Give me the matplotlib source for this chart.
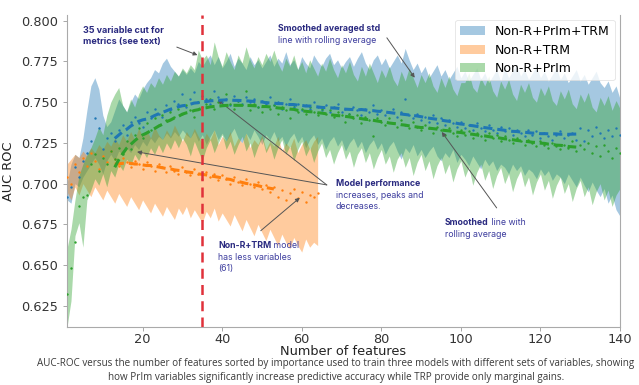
import numpy as np
import pandas as pd
import matplotlib
matplotlib.use('Agg')
import matplotlib.pyplot as plt

# AUC per number of features, one value per model size
auc_all = [0.692, 0.698, 0.710, 0.704, 0.714, 0.719, 0.726, 0.740, 0.734, 0.721,
           0.728, 0.731, 0.726, 0.733, 0.736, 0.730, 0.738, 0.741, 0.737, 0.735,
           0.744, 0.740, 0.746, 0.743, 0.741, 0.748, 0.745, 0.751, 0.749, 0.755,
           0.747, 0.752, 0.756, 0.750, 0.754, 0.752, 0.749, 0.757, 0.753, 0.750,
           0.752, 0.748, 0.754, 0.751, 0.749, 0.753, 0.750, 0.752, 0.747, 0.751,
           0.749, 0.753, 0.748, 0.750, 0.746, 0.749, 0.752, 0.747, 0.749, 0.745,
           0.748, 0.746, 0.750, 0.747, 0.745, 0.748, 0.744, 0.747, 0.749, 0.744,
           0.746, 0.743, 0.747, 0.745, 0.742, 0.746, 0.744, 0.748, 0.743, 0.745,
           0.742, 0.744, 0.746, 0.741, 0.744, 0.752, 0.742, 0.740, 0.743, 0.739,
           0.741, 0.738, 0.742, 0.737, 0.740, 0.736, 0.739, 0.737, 0.735, 0.738,
           0.734, 0.736, 0.733, 0.737, 0.734, 0.732, 0.736, 0.733, 0.731, 0.735,
           0.732, 0.734, 0.730, 0.733, 0.731, 0.729, 0.733, 0.730, 0.732, 0.728,
           0.731, 0.729, 0.727, 0.730, 0.732, 0.728, 0.730, 0.731, 0.727, 0.734,
           0.726, 0.733, 0.729, 0.735, 0.731, 0.728, 0.733, 0.729, 0.734, 0.730]
auc_trm = [0.704, 0.700, 0.712, 0.707, 0.716, 0.711, 0.719, 0.714, 0.709, 0.717,
           0.713, 0.720, 0.715, 0.711, 0.716, 0.713, 0.710, 0.714, 0.712, 0.709,
           0.713, 0.711, 0.708, 0.712, 0.710, 0.707, 0.711, 0.708, 0.706, 0.710,
           0.707, 0.705, 0.709, 0.706, 0.703, 0.707, 0.704, 0.706, 0.702, 0.705,
           0.703, 0.700, 0.704, 0.701, 0.699, 0.703, 0.700, 0.698, 0.701, 0.697,
           0.699, 0.695, 0.698, 0.692, 0.696, 0.690, 0.694, 0.697, 0.691, 0.695,
           0.689, 0.693, 0.692, 0.694]
auc_prim = [0.632, 0.648, 0.664, 0.686, 0.692, 0.693, 0.712, 0.718, 0.708, 0.716,
            0.712, 0.720, 0.715, 0.722, 0.718, 0.726, 0.721, 0.730, 0.734, 0.728,
            0.737, 0.733, 0.740, 0.736, 0.742, 0.739, 0.744, 0.741, 0.746, 0.743,
            0.748, 0.745, 0.741, 0.750, 0.747, 0.749, 0.752, 0.746, 0.750, 0.748,
            0.755, 0.749, 0.746, 0.751, 0.748, 0.757, 0.745, 0.749, 0.747, 0.744,
            0.750, 0.746, 0.748, 0.743, 0.747, 0.745, 0.740, 0.748, 0.744, 0.746,
            0.743, 0.747, 0.744, 0.742, 0.746, 0.743, 0.745, 0.741, 0.744, 0.742,
            0.738, 0.743, 0.740, 0.742, 0.737, 0.741, 0.739, 0.729, 0.740, 0.738,
            0.736, 0.740, 0.737, 0.735, 0.739, 0.736, 0.734, 0.738, 0.735, 0.733,
            0.736, 0.734, 0.731, 0.735, 0.733, 0.730, 0.734, 0.731, 0.729, 0.733,
            0.730, 0.732, 0.728, 0.731, 0.729, 0.727, 0.731, 0.728, 0.730, 0.726,
            0.729, 0.727, 0.725, 0.728, 0.726, 0.724, 0.727, 0.725, 0.723, 0.726,
            0.724, 0.722, 0.725, 0.723, 0.721, 0.724, 0.722, 0.726, 0.720, 0.724,
            0.721, 0.725, 0.719, 0.723, 0.717, 0.724, 0.720, 0.716, 0.722, 0.719]

# smoothed std envelopes (upper / lower)
all_hi = [0.700, 0.712, 0.718, 0.716, 0.728, 0.745, 0.760, 0.765, 0.758, 0.742,
          0.735, 0.738, 0.745, 0.752, 0.748, 0.744, 0.750, 0.755, 0.752, 0.758,
          0.762, 0.765, 0.770, 0.768, 0.774, 0.777, 0.772, 0.769, 0.766, 0.770,
          0.767, 0.771, 0.768, 0.775, 0.772, 0.776, 0.779, 0.773, 0.778, 0.771,
          0.775, 0.780, 0.772, 0.777, 0.774, 0.770, 0.778, 0.773, 0.776, 0.771,
          0.775, 0.779, 0.772, 0.777, 0.774, 0.781, 0.773, 0.776, 0.770, 0.778,
          0.774, 0.771, 0.779, 0.775, 0.772, 0.777, 0.780, 0.773, 0.776, 0.771,
          0.775, 0.778, 0.772, 0.777, 0.781, 0.774, 0.770, 0.776, 0.779, 0.773,
          0.777, 0.771, 0.775, 0.779, 0.774, 0.783, 0.776, 0.770, 0.774, 0.768,
          0.772, 0.765, 0.769, 0.773, 0.766, 0.770, 0.764, 0.768, 0.772, 0.765,
          0.769, 0.763, 0.767, 0.771, 0.764, 0.768, 0.762, 0.766, 0.770, 0.763,
          0.771, 0.765, 0.769, 0.773, 0.766, 0.770, 0.764, 0.768, 0.772, 0.765,
          0.769, 0.763, 0.767, 0.771, 0.764, 0.768, 0.762, 0.766, 0.770, 0.763,
          0.767, 0.761, 0.765, 0.769, 0.762, 0.759, 0.763, 0.756, 0.760, 0.752]
all_lo = [0.690, 0.688, 0.700, 0.698, 0.704, 0.708, 0.712, 0.716, 0.712, 0.706,
          0.714, 0.718, 0.714, 0.720, 0.718, 0.722, 0.719, 0.724, 0.721, 0.726,
          0.723, 0.728, 0.725, 0.729, 0.727, 0.731, 0.728, 0.732, 0.729, 0.733,
          0.730, 0.728, 0.732, 0.726, 0.730, 0.724, 0.729, 0.733, 0.727, 0.731,
          0.726, 0.730, 0.734, 0.728, 0.725, 0.731, 0.727, 0.733, 0.729, 0.724,
          0.730, 0.727, 0.732, 0.726, 0.729, 0.723, 0.728, 0.731, 0.725, 0.729,
          0.722, 0.727, 0.730, 0.724, 0.728, 0.721, 0.726, 0.729, 0.723, 0.727,
          0.720, 0.725, 0.728, 0.722, 0.726, 0.719, 0.724, 0.727, 0.721, 0.725,
          0.718, 0.723, 0.726, 0.720, 0.715, 0.722, 0.719, 0.724, 0.717, 0.721,
          0.716, 0.720, 0.723, 0.717, 0.714, 0.719, 0.716, 0.721, 0.713, 0.718,
          0.715, 0.711, 0.717, 0.713, 0.709, 0.715, 0.711, 0.714, 0.708, 0.712,
          0.710, 0.706, 0.712, 0.708, 0.711, 0.705, 0.709, 0.707, 0.703, 0.709,
          0.705, 0.708, 0.702, 0.706, 0.704, 0.700, 0.706, 0.702, 0.698, 0.704,
          0.699, 0.695, 0.701, 0.696, 0.692, 0.697, 0.688, 0.693, 0.684, 0.680]
trm_hi = [0.712, 0.715, 0.718, 0.716, 0.720, 0.717, 0.722, 0.719, 0.724, 0.721,
          0.726, 0.723, 0.728, 0.724, 0.730, 0.726, 0.732, 0.727, 0.734, 0.729,
          0.733, 0.728, 0.735, 0.730, 0.727, 0.733, 0.729, 0.736, 0.731, 0.726,
          0.732, 0.728, 0.734, 0.729, 0.725, 0.731, 0.727, 0.733, 0.724, 0.729,
          0.726, 0.732, 0.723, 0.728, 0.725, 0.731, 0.722, 0.727, 0.724, 0.730,
          0.721, 0.726, 0.723, 0.729, 0.720, 0.725, 0.722, 0.728, 0.719, 0.724,
          0.727, 0.721, 0.726, 0.729]
trm_lo = [0.695, 0.690, 0.698, 0.693, 0.700, 0.696, 0.692, 0.698, 0.694, 0.690,
          0.696, 0.692, 0.688, 0.694, 0.690, 0.686, 0.692, 0.688, 0.684, 0.690,
          0.686, 0.682, 0.688, 0.684, 0.680, 0.686, 0.682, 0.678, 0.685, 0.681,
          0.686, 0.679, 0.684, 0.680, 0.676, 0.683, 0.679, 0.685, 0.677, 0.682,
          0.678, 0.674, 0.681, 0.676, 0.671, 0.678, 0.673, 0.668, 0.675, 0.670,
          0.665, 0.672, 0.667, 0.662, 0.669, 0.664, 0.660, 0.667, 0.662, 0.658,
          0.666, 0.661, 0.664, 0.662]
prim_hi = [0.660, 0.672, 0.690, 0.705, 0.712, 0.718, 0.722, 0.728, 0.735, 0.730,
           0.742, 0.750, 0.755, 0.759, 0.748, 0.744, 0.752, 0.747, 0.755, 0.760,
           0.756, 0.762, 0.759, 0.765, 0.761, 0.767, 0.763, 0.769, 0.766, 0.771,
           0.768, 0.773, 0.770, 0.782, 0.776, 0.779, 0.773, 0.787, 0.778, 0.772,
           0.781, 0.775, 0.770, 0.779, 0.774, 0.784, 0.776, 0.771, 0.778, 0.773,
           0.780, 0.775, 0.782, 0.774, 0.769, 0.777, 0.772, 0.779, 0.770, 0.775,
           0.768, 0.776, 0.771, 0.766, 0.774, 0.769, 0.777, 0.770, 0.765, 0.773,
           0.768, 0.775, 0.767, 0.763, 0.772, 0.766, 0.774, 0.768, 0.762, 0.770,
           0.765, 0.772, 0.764, 0.760, 0.769, 0.763, 0.771, 0.765, 0.759, 0.767,
           0.762, 0.768, 0.760, 0.756, 0.765, 0.759, 0.766, 0.758, 0.754, 0.762,
           0.762, 0.768, 0.759, 0.756, 0.765, 0.760, 0.766, 0.757, 0.753, 0.763,
           0.758, 0.764, 0.755, 0.751, 0.761, 0.756, 0.762, 0.753, 0.750, 0.759,
           0.754, 0.760, 0.751, 0.748, 0.757, 0.752, 0.758, 0.749, 0.746, 0.755,
           0.750, 0.756, 0.747, 0.744, 0.753, 0.748, 0.754, 0.745, 0.751, 0.746]
prim_lo = [0.612, 0.628, 0.668, 0.676, 0.661, 0.690, 0.696, 0.703, 0.699, 0.706,
           0.698, 0.708, 0.704, 0.712, 0.708, 0.715, 0.711, 0.718, 0.714, 0.720,
           0.716, 0.722, 0.718, 0.724, 0.719, 0.725, 0.721, 0.727, 0.722, 0.728,
           0.724, 0.717, 0.726, 0.720, 0.714, 0.722, 0.727, 0.719, 0.725, 0.730,
           0.721, 0.726, 0.718, 0.724, 0.729, 0.720, 0.725, 0.716, 0.723, 0.728,
           0.719, 0.724, 0.715, 0.722, 0.727, 0.718, 0.723, 0.714, 0.721, 0.726,
           0.717, 0.722, 0.713, 0.720, 0.725, 0.716, 0.721, 0.712, 0.719, 0.724,
           0.715, 0.720, 0.710, 0.718, 0.722, 0.713, 0.719, 0.709, 0.716, 0.721,
           0.712, 0.717, 0.707, 0.715, 0.719, 0.710, 0.716, 0.705, 0.713, 0.718,
           0.708, 0.714, 0.703, 0.711, 0.716, 0.706, 0.712, 0.701, 0.709, 0.714,
           0.704, 0.710, 0.699, 0.707, 0.712, 0.702, 0.708, 0.697, 0.705, 0.710,
           0.700, 0.706, 0.695, 0.703, 0.708, 0.698, 0.704, 0.693, 0.701, 0.706,
           0.696, 0.702, 0.691, 0.699, 0.704, 0.694, 0.700, 0.689, 0.697, 0.702,
           0.692, 0.698, 0.687, 0.695, 0.700, 0.690, 0.696, 0.686, 0.693, 0.697]

labels = ['Non-R+PrIm+TRM', 'Non-R+TRM', 'Non-R+PrIm']
colors = ['tab:blue', 'tab:orange', 'tab:green']
cut = 35
window = 24

ink = '#2a2a80'
ink_light = '#3d3d9e'
note_font = 'Inter'
caption = ('AUC-ROC versus the number of features sorted by importance used to train three models with different sets of variables, showing\n'
           'how PrIm variables significantly increase predictive accuracy while TRP provide only marginal gains.')


def note(ax, x, y, bold, rest, tail='', size=6.3):
    # bold first words, the rest in regular weight on the same line / below
    t = ax.text(x, y, bold, fontsize=size, family=note_font, fontweight='bold',
                color=ink, va='baseline', ha='left', linespacing=1.25)
    if tail:
        ax.annotate(tail, xy=(1, 0), xycoords=t, va='bottom', ha='left',
                    fontsize=size, family=note_font, color=ink_light)
    if rest:
        ax.annotate(rest, xy=(0, 0), xycoords=t, xytext=(0, -2.2), textcoords='offset points',
                    va='top', ha='left', fontsize=size, family=note_font, color=ink_light,
                    linespacing=1.25)
    return t


def arrow(ax, start, end):
    ax.annotate('', xy=end, xytext=start,
                arrowprops=dict(arrowstyle='-|>', color='#555555', lw=0.7, mutation_scale=6,
                                shrinkA=0, shrinkB=0))


fig = plt.figure(figsize=(6.39, 3.85), dpi=100)
ax = fig.add_axes([67 / 639, 1 - 327 / 385, 553 / 639, 312 / 385])

series = [(auc_all, all_lo, all_hi), (auc_trm, trm_lo, trm_hi), (auc_prim, prim_lo, prim_hi)]
for (vals, lo, hi), lab, col in zip(series, labels, colors):
    x = np.arange(1, len(vals) + 1)
    ax.fill_between(x, lo, hi, color=col, alpha=0.4, lw=0, label=lab)

for (vals, lo, hi), col in zip(series, colors):
    x = np.arange(1, len(vals) + 1)
    smooth = pd.Series(vals).rolling(window, center=True).mean()
    ax.scatter(x, vals, s=3, color=col, lw=0, zorder=3)
    ax.plot(x, smooth, color=col, lw=2.2, ls=(0, (3, 1.6)), zorder=4)

ax.axvline(cut, color='#e0313a', lw=1.8, ls=(0, (4, 2.5)), zorder=5)

ax.set_xlim(1, 140)
ax.set_ylim(0.612, 0.8035)
ax.set_xticks([20, 40, 60, 80, 100, 120, 140])
ax.set_yticks(np.arange(0.625, 0.801, 0.025))
ax.yaxis.set_major_formatter(matplotlib.ticker.FormatStrFormatter('%.3f'))
ax.tick_params(labelsize=9.3, labelcolor='#333333', color='#999999', length=3, width=0.6)
ax.tick_params(axis='x', pad=1.5)
ax.set_xlabel('Number of features', fontsize=9.3, color='#222222', labelpad=-1)
ax.set_ylabel('AUC ROC', fontsize=9.3, color='#222222', labelpad=4)
for side in ['left', 'bottom', 'right']:
    ax.spines[side].set_color('#aaaaaa')
    ax.spines[side].set_linewidth(0.8)
ax.spines['top'].set_visible(False)

leg = ax.legend(loc='upper right', fontsize=9, frameon=True, handlelength=2.0,
                borderaxespad=0.4, labelspacing=0.45)
leg.get_frame().set_edgecolor('#dddddd')
leg.get_frame().set_linewidth(0.6)

# annotations
note(ax, 4.9, 0.7860, '35 variable cut for\nmetrics (see text)', '', size=6.5)
arrow(ax, (28.6, 0.7838), (33.8, 0.7789))
note(ax, 54.0, 0.7935, 'Smoothed averaged std', 'line with rolling average')
arrow(ax, (81.4, 0.7895), (88.4, 0.7650))
note(ax, 68.5, 0.6985, 'Model performance', 'increases, peaks and\ndecreases.')
arrow(ax, (66.3, 0.6992), (38.9, 0.7513))
arrow(ax, (66.3, 0.6992), (18.6, 0.7195))
note(ax, 39.0, 0.6605, 'Non-R+TRM', 'has less variables\n(61)', tail=' model')
arrow(ax, (49.7, 0.6711), (59.5, 0.6913))
note(ax, 96.0, 0.6745, 'Smoothed', 'rolling average', tail=' line with')
arrow(ax, (109.0, 0.6851), (95.2, 0.7317))

fig.text(336 / 639, 1 - 370.5 / 385, caption, ha='center', va='center', fontsize=7.1,
         family='Open Sans', color='#3a3a3a', linespacing=1.3)

fig.savefig('out.png', dpi=100)
